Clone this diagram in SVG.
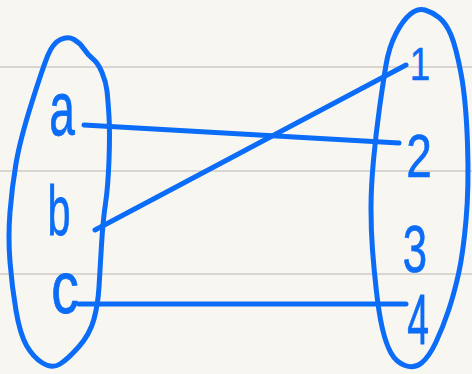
<svg xmlns="http://www.w3.org/2000/svg" width="472" height="374" viewBox="0 0 472 374">
<style>
.ink{fill:none;stroke:#0b6cf7;stroke-width:5;stroke-linecap:round;stroke-linejoin:round}
.rule{stroke:#cfcac4;stroke-width:1.5}
.lbl{font-family:"Liberation Sans",Arial,sans-serif;font-size:46px;fill:#0b6cf7;stroke:#0b6cf7;stroke-width:0.5;text-anchor:middle}
</style>
<rect width="472" height="374" fill="#f8f6f1"/>
<g id="paper-lines">
<line class="rule" x1="0" y1="67" x2="472" y2="67"/>
<line class="rule" x1="0" y1="171" x2="472" y2="171"/>
<line class="rule" x1="0" y1="274" x2="472" y2="274"/>
</g>
<g id="set-left">
<path class="ink" d="M74,39.5 Q80,43 84,49 Q88,55 93,59 Q98,63 102,72.5 Q106,82 107,91 Q108,100 109,116.5 Q110,133 109,160 Q108,187 105.5,203.5 Q103,220 101.5,245 Q100,270 99,287 Q98,304 94,319 Q90,334 79,346.5 Q68,359 60,364 Q52,369 42.5,363 Q33,357 26.5,345.5 Q20,334 16,310.5 Q12,287 10,262 Q8,237 10,212 Q12,187 16,163.5 Q20,140 31.5,103.5 Q43,67 48,55 Q53,43 60.5,39.5 Q68,36 74,39.5 Z"/>
</g>
<g id="set-right">
<path class="ink" d="M425,10 Q432,12 439,17.5 Q446,23 451,35 Q456,47 461,73.5 Q466,100 467.5,143.5 Q469,187 466,220.5 Q463,254 458.5,274 Q454,294 448.5,310.5 Q443,327 436,342 Q429,357 421.5,363 Q414,369 405,365.5 Q396,362 391,353 Q386,344 382.5,329 Q379,314 376.5,292 Q374,270 372.5,250 Q371,230 371,208.5 Q371,187 373.5,160 Q376,133 379.5,108 Q383,83 386,65 Q389,47 396,33.5 Q403,20 410.5,14 Q418,8 425,10 Z"/>
</g>
<g id="connectors">
<path class="ink" d="M84,125 L399,143"/>
<path class="ink" d="M95,230 L406,65"/>
<path class="ink" d="M79,304 L406,304"/>
</g>
<g id="node-a"><text class="lbl" transform="translate(62,135) scale(1,1.65)">a</text></g>
<g id="node-b"><text class="lbl" transform="translate(59,235) scale(0.9,1.55)">b</text></g>
<g id="node-c"><text class="lbl" transform="translate(65,313) scale(1.2,1.6)">c</text></g>
<g id="node-1"><text class="lbl" transform="translate(420,80) scale(0.8,1)">1</text></g>
<g id="node-2"><text class="lbl" transform="translate(419,177) scale(1,1.33)">2</text></g>
<g id="node-3"><text class="lbl" transform="translate(415,272) scale(0.95,1.43)">3</text></g>
<g id="node-4"><text class="lbl" transform="translate(418,344) scale(0.85,1.52)">4</text></g>
</svg>
